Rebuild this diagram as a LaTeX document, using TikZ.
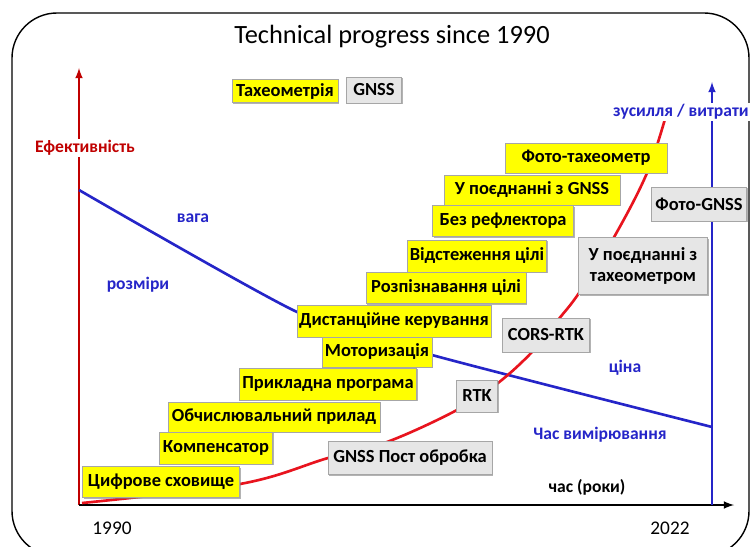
\documentclass[tikz,border=0pt]{standalone}
\usepackage{fontspec}
\setmainfont{Carlito}
\usetikzlibrary{shadows}

\definecolor{boxyellow}{HTML}{FFFF00}
\definecolor{boxgray}{HTML}{E6E6E6}
\definecolor{axisred}{HTML}{C00000}
\definecolor{curvered}{HTML}{E8141E}
\definecolor{lineblue}{HTML}{2525C8}

\tikzset{
	ybox/.style={draw=gray!70, fill=boxyellow, inner sep=1pt,
		font=\fontsize{10.5}{12}\selectfont\bfseries,
		drop shadow={shadow xshift=0.6pt, shadow yshift=-0.6pt, fill=gray, opacity=0.6}},
	gbox/.style={ybox, fill=boxgray, align=center},
	blabel/.style={text=lineblue, font=\fontsize{10}{12}\selectfont\bfseries},
}

\begin{document}
\begin{tikzpicture}[x=0.02cm, y=-0.02cm, >=latex]
	\def \u {0.02cm} % one pixel of the reference
	\useasboundingbox (0,0) rectangle (750,547);
	
	\draw[line width=0.8pt, rounded corners=0.9cm] (12,13) rectangle (749,556);
	\node (title) at (392,37) {\fontsize{15}{18}\selectfont Technical progress since 1990};
	
	% axes
	\coordinate (o) at (79,505);
	\coordinate (yend) at (79,68);
	\coordinate (xend) at (734,505);
	\coordinate (tbase) at (712,505);
	\coordinate (tend) at (712,82);
	\draw[->, axisred, line width=1pt] (o) -- (yend);
	\draw[->, line width=1pt] (o) -- (xend);
	\draw[->, lineblue, line width=1pt] (tbase) -- (tend);
	
	% curves
	\draw[lineblue, line width=1.5pt] plot[smooth, tension=0.4] coordinates
		{(79,190) (297,312) (432,355) (712,427)};
	\draw[curvered, line width=1.5pt] plot[smooth, tension=0.6] coordinates
		{(82,503) (240,484) (328,458) (387,442) (457,410) (498,383) (533,351)
		 (558,320) (579,293) (613,239) (647,173) (667,112)};
	
	% total station
	\foreach \name/\cx/\cy/\w/\h/\txt in {
		dig/161/482/157/31/Цифрове сховище,
		comp/216/448/113/32/Компенсатор,
		calc/274/417/212/30/Обчислювальний прилад,
		app/328/384/177/32/Прикладна програма,
		motor/377/352/110/30/Моторизація,
		remote/394/321/194/32/Дистанційне керування,
		recog/446/288/160/31/Розпізнавання цілі,
		track/477/256/139/32/Відстеження цілі,
		refl/503/221/141/31/Без рефлектора,
		wgnss/532/190/176/30/У поєднанні з GNSS,
		phtach/586/158/162/30/Фото-тахеометр,
		tach/285/91/106/23/Тахеометрія}
	{
		\node[ybox, minimum width=\w*\u, minimum height=\h*\u] (\name) at (\cx,\cy) {\txt};
	}
	
	% GNSS
	\foreach \name/\cx/\cy/\w/\h/\txt in {
		gnss/374/90/55/26/GNSS,
		post/410/458/164/33/GNSS Пост обробка,
		rtk/477/396/41/32/RTK,
		cors/546/335/87/34/CORS-RTK,
		wtach/643/266/129/57/{У поєднанні з\\тахеометром},
		phgnss/699/204/95/34/Фото-GNSS}
	{
		\node[gbox, minimum width=\w*\u, minimum height=\h*\u] (\name) at (\cx,\cy) {\txt};
	}
	
	\node[text=axisred, fill=white, inner sep=1pt, font=\fontsize{10}{12}\selectfont\bfseries] (eff) at (85,148) {Ефективність};
	\node[blabel, fill=white, inner sep=1pt, anchor=west] (effort) at (611,112) {зусилля / витрати};
	\node[blabel] (mass) at (193,218) {вага};
	\node[blabel] (size) at (138,285) {розміри};
	\node[blabel] (price) at (625,368) {ціна};
	\node[blabel] (mtime) at (600,435) {Час вимірювання};
	\node[font=\fontsize{10}{12}\selectfont\bfseries] (years) at (587,487) {час (роки)};
	\node[font=\fontsize{11}{13}\selectfont] (start) at (112,528) {1990};
	\node[font=\fontsize{11}{13}\selectfont] (now) at (670,528) {2022};
\end{tikzpicture}
\end{document}
